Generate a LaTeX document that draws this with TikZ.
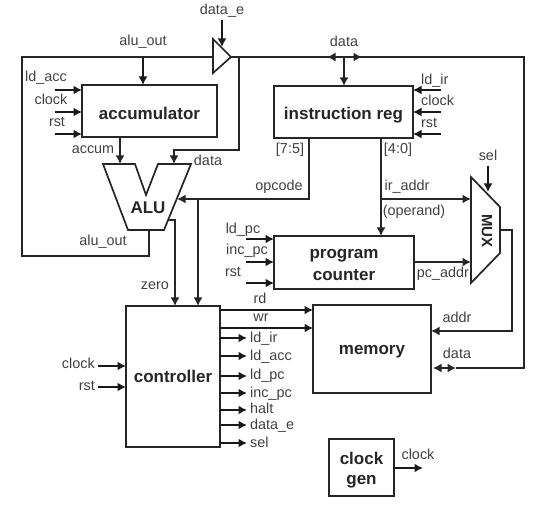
\documentclass[tikz,border=0pt]{standalone}
\usepackage{fontspec}
\setmainfont{Liberation Sans}
\usepackage{tikz}
\usetikzlibrary{
    positioning,
    arrows.meta,
    calc
}
\tikzset{
    unit/.style={
        rectangle, draw=black!85, line width=1.7pt, inner sep=0pt, outer sep=0pt,
        align=center, font=\fontsize{17}{20}\selectfont\bfseries, text=black!85
    },
    lbl/.style={
        inner sep=0pt, text height=10pt, text depth=0pt,
        font=\fontsize{14.4}{16}\selectfont, text=black!75
    },
    wire/.style={
        draw=black!85, line width=1.6pt
    },
    sig/.style={
        wire, -{Latex[length=8.5pt,width=9pt]}
    },
    ctl/.style={
        draw=black!90, line width=2.3pt, -{Latex[length=8.5pt,width=9pt]}
    },
    bus/.style={
        wire, {Latex[length=8.5pt,width=9pt]}-{Latex[length=8.5pt,width=9pt]}
    }
}
\begin{document}
\begin{tikzpicture}[x=1pt, y=-1pt]
	\useasboundingbox (0,0) rectangle (539,505);

	% UNITS
	\node (accu) [unit, minimum width=135pt, minimum height=52pt, text height=18pt, text depth=0pt] at (149.5,111) {accumulator};
	\node (ireg) [unit, minimum width=139pt, minimum height=52pt, text height=16pt, text depth=0pt] at (343.5,112) {instruction reg};
	\node (pcnt) [unit, minimum width=140pt, minimum height=53pt] at (344,262.5) {\rule{0pt}{14pt}program\\[2pt]counter};
	\node (ctrl) [unit, minimum width=94pt, minimum height=141pt] at (173,376.5) {controller};
	\node (mem) [unit, minimum width=118pt, minimum height=88pt, text height=12pt, text depth=0pt] at (372,349) {memory};
	\node (cgen) [unit, minimum width=65pt, minimum height=57pt] at (361.5,467.5) {\rule{0pt}{17pt}clock\\gen};

	% ALU, MUX AND BUFFER OUTLINES
	\coordinate (alua) at (120,164);
	\coordinate (alub) at (174,164);
	\coordinate (aluc) at (177,199);
	\coordinate (aluz) at (168,220);
	\coordinate (aluo) at (149,230);
	\draw[wire, line width=1.7pt, line join=miter] (103,164) -- (135,164) -- (146,195) -- (158,164) -- (191,164) -- (164,230) -- (128,230) -- cycle;
	\node (alutxt) [unit, draw=none] at (148,208) {ALU};
	\draw[wire, line width=1.7pt] (471,177) -- (500,207) -- (500,253) -- (471,283) -- cycle;
	\node (muxtxt) [unit, draw=none, rotate=-90, font=\fontsize{15}{18}\selectfont\bfseries] at (487,231) {MUX};
	\draw[wire, line width=1.7pt] (213,39) -- (231,57) -- (213,73) -- cycle;
	\coordinate (bufin) at (213,57);
	\coordinate (bufout) at (231,57);
	\coordinate (bufen) at (222,47);
	\coordinate (muxa) at (471,199);
	\coordinate (muxb) at (471,262);
	\coordinate (muxs) at (488,192);
	\coordinate (muxo) at (500,230);

	% BUS ROUTES
	\coordinate (tl) at (22,57);
	\coordinate (bl) at (22,256);
	\coordinate (alutap) at (143,57);
	\coordinate (datatap) at (239,57);
	\coordinate (irtap) at (344,57);
	\coordinate (tr) at (524,57);
	\coordinate (br) at (524,368);
	\coordinate (memdata) at (456,368);
	\coordinate (memtip) at (433,368);
	\coordinate (opc) at (198,199);

	\draw[wire] (bufin) -- (tl) -- (bl) -- (aluo |- bl) -- (aluo);
	\draw[ctl] (alutap) -- (alutap |- accu.north);
	\draw[wire] (bufout) -- (tr) -- (br) -- (memdata);
	\draw[bus] (memtip) -- (memdata);
	\draw[bus] (327,57) -- (362,57);
	\draw[sig] (irtap) -- (irtap |- ireg.north);
	\draw[sig] (datatap) -- (239,150) -- (174,150) -- (alub);
	\draw[sig] (alua |- accu.south) -- (alua);

	% OPCODE AND ZERO
	\draw[sig] (309,138) -- (309,199) -- (aluc);
	\draw[sig] (opc) -- (opc |- ctrl.north);
	\draw[sig] (aluz) -- (175,220) -- (175,306);

	% OPERAND AND ADDRESS
	\draw[sig] (381,138) -- (381,236);
	\draw[sig] (381,199) -- (muxa);
	\draw[sig] (pcnt.east |- muxb) -- (muxb);
	\draw[sig] (muxo) -- (512,230) -- (512,331) -- (mem.east |- 0,331);

	% SIDE INPUTS
	\coordinate (acca) at (55,90);
	\coordinate (accb) at (55,112);
	\coordinate (accc) at (55,134);
	\draw[ctl] (acca) -- (acca -| accu.west);
	\draw[ctl] (accb) -- (accb -| accu.west);
	\draw[ctl] (accc) -- (accc -| accu.west);
	\coordinate (ira) at (441,90);
	\coordinate (irb) at (441,112);
	\coordinate (irc) at (441,134);
	\draw[ctl] (ira) -- (ira -| ireg.east);
	\draw[ctl] (irb) -- (irb -| ireg.east);
	\draw[ctl] (irc) -- (irc -| ireg.east);
	\coordinate (pca) at (246,239);
	\coordinate (pcb) at (246,262);
	\coordinate (pcc) at (246,283);
	\draw[ctl] (pca) -- (pca -| pcnt.west);
	\draw[ctl] (pcb) -- (pcb -| pcnt.west);
	\draw[ctl] (pcc) -- (pcc -| pcnt.west);
	\coordinate (cta) at (98,366);
	\coordinate (ctb) at (98,387);
	\draw[ctl] (cta) -- (cta -| ctrl.west);
	\draw[ctl] (ctb) -- (ctb -| ctrl.west);
	\coordinate (enin) at (222,20);
	\draw[ctl] (enin) -- (bufen);
	\coordinate (selin) at (488,166);
	\draw[ctl] (selin) -- (muxs);

	% CONTROLLER OUTPUTS
	\coordinate (rdo) at (220,310);
	\coordinate (wro) at (220,328);
	\draw[ctl] (rdo) -- (rdo -| mem.west);
	\draw[ctl] (wro) -- (wro -| mem.west);
	\draw[ctl] (220,338) -- (247,338);
	\draw[ctl] (220,356) -- (247,356);
	\draw[ctl] (220,376) -- (247,376);
	\draw[ctl] (220,393) -- (247,393);
	\draw[ctl] (220,410) -- (247,410);
	\draw[ctl] (220,425) -- (247,425);
	\draw[ctl] (220,443) -- (247,443);
	\coordinate (clko) at (423,468);
	\draw[ctl] (clko -| cgen.east) -- (clko);

	% LABELS
	\node (ldataE) [lbl] at (222,10) {data\_e};
	\node (laluT) [lbl] at (143,41) {alu\_out};
	\node (ldataT) [lbl] at (344,42) {data};
	\node (lldacc) [lbl] at (46,77) {ld\_acc};
	\node (lclkA) [lbl] at (51,100) {clock};
	\node (lrstA) [lbl] at (57,122) {rst};
	\node (lldir) [lbl, anchor=west] at (421,80) {ld\_ir};
	\node (lclkI) [lbl, anchor=west] at (421,101) {clock};
	\node (lrstI) [lbl, anchor=west] at (421,123) {rst};
	\node (laccum) [lbl] at (93,149) {accum};
	\node (ldataA) [lbl] at (208,161) {data};
	\node (lalub) [lbl] at (103,241) {alu\_out};
	\node (l75) [lbl] at (290,149) {[7:5]};
	\node (l40) [lbl] at (398,149) {[4:0]};
	\node (lopc) [lbl] at (279,186) {opcode};
	\node (lira) [lbl] at (407,186) {ir\_addr};
	\node (lopd) [lbl] at (414,211) {(operand)};
	\node (lsel) [lbl] at (488,156) {sel};
	\node (lldpc) [lbl] at (243,229) {ld\_pc};
	\node (lincpc) [lbl] at (247,250) {inc\_pc};
	\node (lrstP) [lbl] at (233,272) {rst};
	\node (lpca) [lbl] at (443,273) {pc\_addr};
	\node (lzero) [lbl] at (155,285) {zero};
	\node (lrd) [lbl] at (260,299) {rd};
	\node (lwr) [lbl] at (261,317) {wr};
	\node (lclkC) [lbl, anchor=east] at (95,364) {clock};
	\node (lrstC) [lbl, anchor=east] at (95,386) {rst};
	\node (lcir) [lbl, anchor=west] at (250,338) {ld\_ir};
	\node (lcacc) [lbl, anchor=west] at (250,356) {ld\_acc};
	\node (lcpc) [lbl, anchor=west] at (250,375) {ld\_pc};
	\node (lcinc) [lbl, anchor=west] at (250,393) {inc\_pc};
	\node (lchalt) [lbl, anchor=west] at (250,409) {halt};
	\node (lcde) [lbl, anchor=west] at (250,425) {data\_e};
	\node (lcsel) [lbl, anchor=west] at (250,443) {sel};
	\node (laddr) [lbl] at (457,318) {addr};
	\node (ldataM) [lbl] at (457,354) {data};
	\node (lclkG) [lbl] at (418,455) {clock};

\end{tikzpicture}
\end{document}
